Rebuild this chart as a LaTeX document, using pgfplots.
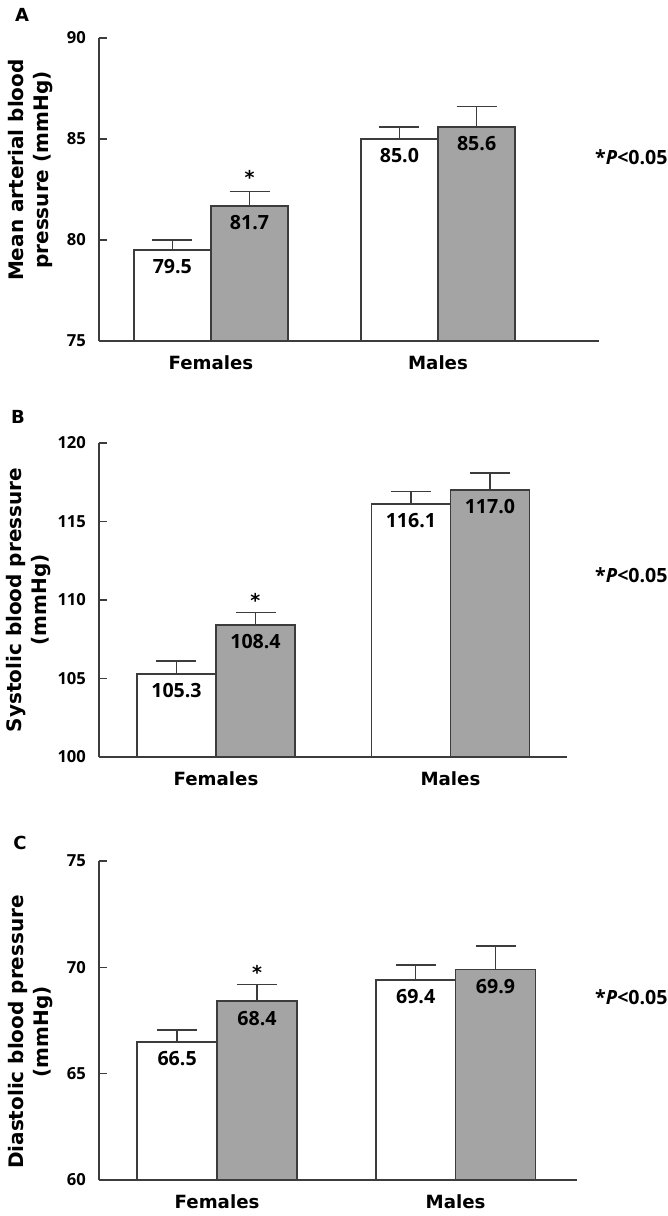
\documentclass[border=0pt]{standalone}
\usepackage{pgfplots}
\pgfplotsset{compat=1.18}
\usepackage{fontspec}
\setmainfont{DejaVu Sans}
\newfontfamily\numfont{Open Sans}
\definecolor{axgray}{HTML}{3C3C3C}
\definecolor{barfill}{HTML}{A4A4A4}
\begin{document}
\begin{tikzpicture}
\useasboundingbox (0pt,0pt) rectangle (334pt,608pt);
\pgfplotsset{
 panel/.style={
  scale only axis, anchor=south west,
  axis x line*=bottom, axis y line*=left,
  axis line style={axgray, line width=0.9pt},
  ybar=0pt,
  enlargelimits=false,
  xtick={0,1}, xticklabels={Females,Males},
  x tick style={draw=none},
  y tick style={axgray, line width=0.7pt},
  tick align=inside, major tick length=4pt,
  yticklabel style={font=\numfont\bfseries\fontsize{8.3}{9}\selectfont, xshift=-3pt},
  xticklabel style={font=\bfseries\fontsize{9.1}{10}\selectfont, yshift=-4pt},
  /pgf/number format/assume math mode=true,
  ylabel style={font=\bfseries\fontsize{10}{12.5}\selectfont, align=center, anchor=center},
  nodes near coords={\pgfmathprintnumber[fixed,fixed zerofill,precision=1,assume math mode=true]{\pgfplotspointmeta}},
  every node near coord/.append style={font=\numfont\bfseries\fontsize{9.8}{11}\selectfont, anchor=north, yshift=-1pt, black},
 },
 wbar/.style={draw=axgray, fill=white, line width=0.9pt,
   error bars/.cd, y dir=plus, y explicit,
   error bar style={axgray,line width=0.8pt},
   error mark options={axgray, rotate=90, mark size=10pt, line width=0.8pt}},
 gbar/.style={draw=axgray, fill=barfill, line width=0.9pt,
   error bars/.cd, y dir=plus, y explicit,
   error bar style={axgray,line width=0.8pt},
   error mark options={axgray, rotate=90, mark size=10pt, line width=0.8pt}},
}
% Panel A
\begin{axis}[panel, at={(49.5pt,437.5pt)}, width=250pt, height=151.5pt,
  xmin=-0.493, xmax=1.709, bar width=0.34,
  ymin=75, ymax=90, ytick={75,80,85,90},
  ylabel={Mean arterial blood\\pressure (mmHg)},
  ylabel style={at={(axis description cs:-0.136,0.564)}}]
\addplot[wbar] coordinates {(0,79.5) +- (0,0.5) (1,85.0) +- (0,0.6)};
\addplot[gbar] coordinates {(0,81.7) +- (0,0.7) (1,85.6) +- (0,1.0)};
\node[anchor=south, yshift=0pt, font=\bfseries\fontsize{9.5}{11}\selectfont] at (axis cs:0.17,82.4) {*};
\end{axis}
% Panel B
\begin{axis}[panel, at={(49.5pt,229.5pt)}, width=234pt, height=157pt,
  xmin=-0.499, xmax=1.497, bar width=0.337,
  ymin=100, ymax=120, ytick={100,105,110,115,120},
  ylabel={Systolic blood pressure\\(mmHg)},
  ylabel style={at={(axis description cs:-0.15,0.5)}}]
\addplot[wbar] coordinates {(0,105.3) +- (0,0.8) (1,116.1) +- (0,0.8)};
\addplot[gbar] coordinates {(0,108.4) +- (0,0.8) (1,117.0) +- (0,1.1)};
\node[anchor=south, yshift=-1pt, font=\bfseries\fontsize{9.5}{11}\selectfont] at (axis cs:0.168,109.2) {*};
\end{axis}
% Panel C
\begin{axis}[panel, at={(49.5pt,18pt)}, width=239pt, height=159.5pt,
  xmin=-0.495, xmax=1.509, bar width=0.335,
  ymin=60, ymax=75, ytick={60,65,70,75},
  ylabel={Diastolic blood pressure\\(mmHg)},
  ylabel style={at={(axis description cs:-0.144,0.464)}}]
\addplot[wbar] coordinates {(0,66.5) +- (0,0.55) (1,69.4) +- (0,0.7)};
\addplot[gbar] coordinates {(0,68.4) +- (0,0.8) (1,69.9) +- (0,1.1)};
\node[anchor=south, yshift=-1pt, font=\bfseries\fontsize{9.5}{11}\selectfont] at (axis cs:0.1675,69.2) {*};
\end{axis}
% panel letters and significance notes
\node[font=\bfseries\fontsize{9}{10}\selectfont] at (11pt,600.5pt) {A};
\node[font=\bfseries\fontsize{9}{10}\selectfont] at (9pt,399.5pt) {B};
\node[font=\bfseries\fontsize{9}{10}\selectfont] at (10pt,186.5pt) {C};
\node[anchor=east, inner sep=0pt, font=\numfont\bfseries\fontsize{9.8}{11}\selectfont] at (334pt,529.5pt) {*\textit{P}<0.05};
\node[anchor=east, inner sep=0pt, font=\numfont\bfseries\fontsize{9.8}{11}\selectfont] at (334pt,320.5pt) {*\textit{P}<0.05};
\node[anchor=east, inner sep=0pt, font=\numfont\bfseries\fontsize{9.8}{11}\selectfont] at (334pt,109.5pt) {*\textit{P}<0.05};
\end{tikzpicture}
\end{document}
